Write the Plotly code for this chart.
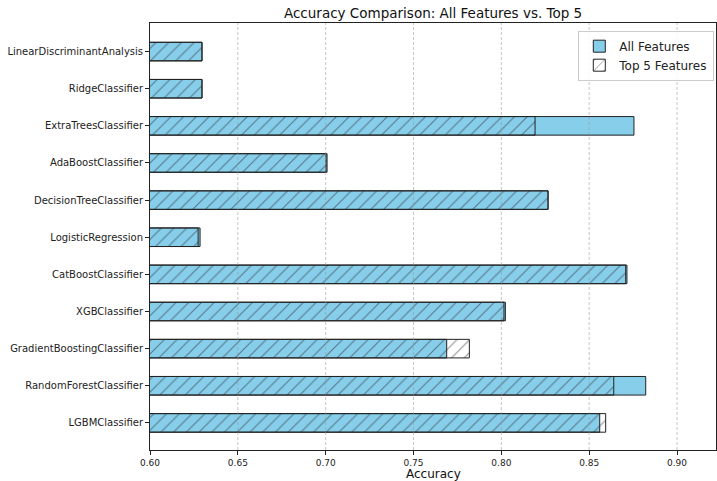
import plotly.graph_objects as go

models = ["LGBMClassifier", "RandomForestClassifier", "GradientBoostingClassifier",
          "XGBClassifier", "CatBoostClassifier", "LogisticRegression",
          "DecisionTreeClassifier", "AdaBoostClassifier", "ExtraTreesClassifier",
          "RidgeClassifier", "LinearDiscriminantAnalysis"]
acc_all = [0.8560, 0.8822, 0.7689, 0.8023, 0.8715, 0.6285, 0.8266, 0.7008, 0.8755, 0.6296, 0.6296]
acc_top5 = [0.8594, 0.8640, 0.7818, 0.8015, 0.8708, 0.6274, 0.8266, 0.7002, 0.8192, 0.6296, 0.6296]
x_ticks = [0.60, 0.65, 0.70, 0.75, 0.80, 0.85, 0.90]

font = "DejaVu Sans"
W, H = 717, 481
L, R, T, B = 150, 1, 23, 31

fig = go.Figure()
fig.add_trace(go.Bar(
    y=models, x=acc_all, orientation="h", name="All Features", width=0.5,
    marker=dict(color="#87CEEB", line=dict(color="#222222", width=1)),
))
fig.add_trace(go.Bar(
    y=models, x=acc_top5, orientation="h", name="Top 5 Features", width=0.5,
    marker=dict(color="rgba(0,0,0,0)", line=dict(color="#222222", width=1),
                pattern=dict(shape="/", fgcolor="#222222", bgcolor="rgba(0,0,0,0)",
                             size=9, solidity=0.12, fillmode="overlay")),
))
grid_shapes = [dict(type="line", xref="x", yref="paper", x0=v, x1=v, y0=0, y1=1,
                    layer="above", line=dict(color="rgba(150,150,150,0.55)", width=1, dash="3px,2px"))
               for v in x_ticks[1:]]
fig.update_layout(
    barmode="overlay",
    width=W, height=H,
    margin=dict(l=L, r=R, t=T, b=B, autoexpand=False),
    paper_bgcolor="white", plot_bgcolor="white",
    font=dict(family=font, size=10, color="#222222"),
    title=dict(text="Accuracy Comparison: All Features vs. Top 5", x=0.604, xanchor="center",
               y=1 - 13 / H, yanchor="middle", font=dict(size=13.5, family=font, color="#111")),
    legend=dict(x=0.997, y=0.982, xanchor="right", yanchor="top",
                bgcolor="rgba(255,255,255,0.85)", bordercolor="#cccccc", borderwidth=1,
                font=dict(size=12, family=font), traceorder="normal", tracegroupgap=0),
    showlegend=True,
    shapes=grid_shapes,
    annotations=[dict(text="Accuracy", xref="paper", yref="paper",
                      x=0.5, y=-(473.5 - (H - B)) / (H - T - B), xanchor="center", yanchor="middle",
                      showarrow=False, font=dict(size=12, family=font, color="#111"))],
)
fig.update_xaxes(
    range=[0.6, 0.9222], tickvals=x_ticks, ticktext=[f"{v:.2f}" for v in x_ticks],
    showgrid=False,
    showline=True, linecolor="#222222", mirror=True, linewidth=1,
    ticks="outside", ticklen=4, tickcolor="#222222", tickfont=dict(size=9),
    automargin=False, zeroline=False,
)
fig.update_yaxes(
    range=[-0.73, 10.77], categoryorder="array", categoryarray=models,
    showgrid=False, showline=True, linecolor="#222222", mirror=True, linewidth=1,
    ticks="outside", ticklen=4, tickcolor="#222222", tickfont=dict(size=10),
    automargin=False, zeroline=False,
)
fig.write_html("out.html")
